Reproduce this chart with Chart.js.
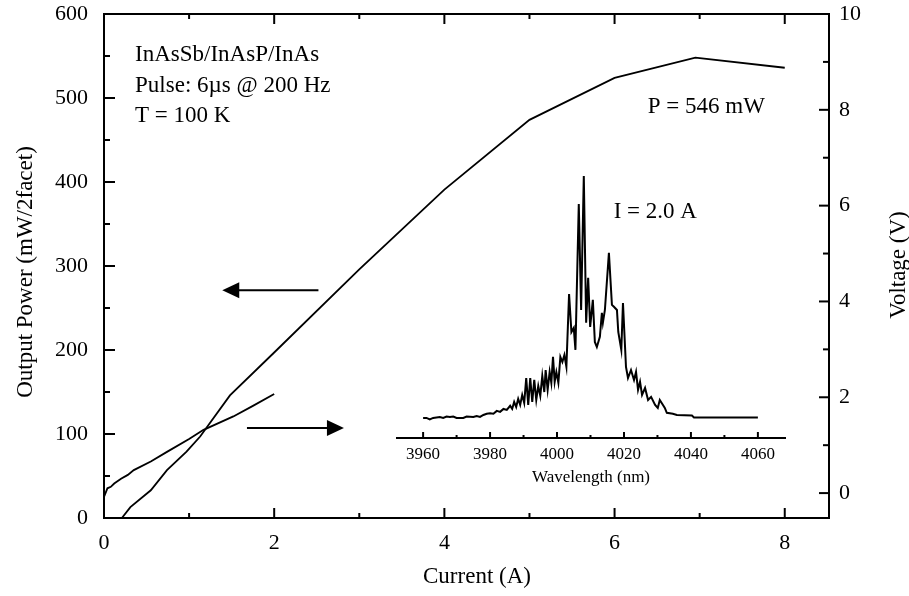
<!DOCTYPE html>
<html>
<head>
<meta charset="utf-8">
<script src="https://cdn.jsdelivr.net/npm/chart.js@4.4.0/dist/chart.umd.min.js"></script>
<style>
  html, body { margin: 0; padding: 0; background: #fff; }
  #wrap { position: relative; width: 909px; height: 596px; }
  #mainChart { position: absolute; left: 0; top: 0; }
  #insetChart { position: absolute; left: 380px; top: 150px; }
</style>
</head>
<body>
<div id="wrap">
  <canvas id="mainChart" width="909" height="596"></canvas>
  <canvas id="insetChart" width="420" height="350"></canvas>
</div>
<script>
// L-I curve (left axis)
const powerCurrent = [0.21, 0.31, 0.55, 0.74, 0.97, 1.13, 1.48, 2, 3, 4, 5, 6, 6.95, 8];
const powerValues  = [0, 13, 33, 57, 79, 97, 146, 197, 296, 391, 474, 524, 548, 536];

// V-I curve (right axis)
const voltageCurrent = [0, 0.04, 0.08, 0.12, 0.2, 0.28, 0.35, 0.55, 0.74, 1.0, 1.17, 1.52, 1.75, 2.0];
const voltageValues  = [-0.08, 0.1, 0.13, 0.2, 0.3, 0.38, 0.48, 0.66, 0.86, 1.13, 1.32, 1.6, 1.82, 2.07];

// spectrum at I = 2.0 A (normalised intensity)
const specWavelength = [
  3960, 3961, 3962, 3963, 3965, 3966, 3967, 3968, 3969, 3970,
  3972, 3973, 3975, 3976, 3977, 3978, 3979, 3980, 3981, 3982,
  3983, 3984, 3985, 3986, 3986.6, 3987.2, 3987.8, 3988.4, 3989, 3989.6,
  3990.2, 3990.8, 3991.4, 3992, 3992.6, 3993.2, 3993.8, 3994.4, 3995, 3995.6,
  3996.2, 3996.6, 3997.2, 3997.8, 3998.3, 3998.8, 3999.3, 3999.8, 4000.4, 4001,
  4001.6, 4002.2, 4002.8, 4003.6, 4004.3, 4005, 4005.5, 4006.5, 4007.2, 4008,
  4008.7, 4009.3, 4009.9, 4010.7, 4011.3, 4011.9, 4012.8, 4013.4, 4013.7, 4014.3,
  4015.5, 4016.4, 4017, 4017.9, 4018.3, 4019.2, 4019.7, 4020.6, 4021.2, 4022.1,
  4023, 4023.6, 4024.2, 4024.8, 4025.4, 4026.3, 4027.2, 4028.1, 4029.3, 4030.1,
  4030.7, 4031.6, 4032.2, 4032.8, 4034.6, 4035.8, 4040.3, 4040.9, 4060
];
const specIntensity = [
  0, 0, -0.006, 0, 0.004, 0, 0.006, 0.004, 0.006, 0,
  0, 0.006, 0.004, 0.008, 0.004, 0.012, 0.017, 0.019, 0.017, 0.029,
  0.025, 0.037, 0.033, 0.05, 0.037, 0.066, 0.045, 0.079, 0.054, 0.095,
  0.062, 0.165, 0.054, 0.165, 0.066, 0.157, 0.074, 0.132, 0.091, 0.174,
  0.107, 0.198, 0.116, 0.19, 0.145, 0.252, 0.149, 0.19, 0.145, 0.252,
  0.231, 0.26, 0.211, 0.512, 0.355, 0.372, 0.281, 0.884, 0.446, 1.0,
  0.393, 0.579, 0.376, 0.488, 0.314, 0.293, 0.335, 0.434, 0.393, 0.446,
  0.682, 0.467, 0.459, 0.446, 0.355, 0.281, 0.475, 0.211, 0.165, 0.198,
  0.157, 0.19, 0.116, 0.149, 0.095, 0.124, 0.074, 0.087, 0.054, 0.041,
  0.074, 0.054, 0.041, 0.021, 0.017, 0.012, 0.01, 0.002, 0.002
];

// tick values
const currentTicks = [0, 2, 4, 6, 8];
const currentMinor = [1, 3, 5, 7];
const powerTicks = [0, 100, 200, 300, 400, 500, 600];
const powerMinor = [50, 150, 250, 350, 450, 550];
const voltageTicks = [0, 2, 4, 6, 8, 10];
const voltageMinor = [1, 3, 5, 7, 9];
const waveTicks = [3960, 3980, 4000, 4020, 4040, 4060];
const waveMinor = [3970, 3990, 4010, 4030, 4050];

const serif = '"Liberation Serif", "Times New Roman", serif';

function toPoints(xs, ys) {
  return xs.map((v, i) => ({ x: v, y: ys[i] }));
}

function setTicks(values) {
  return axis => { axis.ticks = values.map(v => ({ value: v })); };
}

// fixed box sizes so the plot area lands where the original's does
function fitWidth(w) {
  return s => { s.width = w; s.paddingTop = 0; s.paddingBottom = 0; };
}
function fitHeight(h) {
  return s => { s.height = h; s.paddingLeft = 0; s.paddingRight = 0; };
}

function line(ctx, x0, y0, x1, y1) {
  ctx.beginPath();
  ctx.moveTo(x0, y0);
  ctx.lineTo(x1, y1);
  ctx.stroke();
}

function arrow(ctx, x0, x1, yy) {
  const dir = Math.sign(x1 - x0);
  ctx.lineWidth = 2;
  line(ctx, x0, yy, x1 - dir * 14, yy);
  ctx.beginPath();
  ctx.moveTo(x1, yy);
  ctx.lineTo(x1 - dir * 17, yy - 8);
  ctx.lineTo(x1 - dir * 17, yy + 8);
  ctx.closePath();
  ctx.fill();
}

// inward tick marks (major + minor) on all four sides
const mainTicks = {
  id: 'mainTicks',
  afterDraw(chart) {
    const { ctx, chartArea: a, scales } = chart;
    ctx.save();
    ctx.strokeStyle = '#000';
    ctx.lineWidth = 2;
    const xTick = (vals, len) => vals.forEach(v => {
      const px = scales.x.getPixelForValue(v);
      line(ctx, px, a.bottom, px, a.bottom - len);
      line(ctx, px, a.top, px, a.top + len);
    });
    xTick(currentTicks, 10);
    xTick(currentMinor, 5);
    powerTicks.forEach(v => { const py = scales.y.getPixelForValue(v); line(ctx, a.left, py, a.left + 11, py); });
    powerMinor.forEach(v => { const py = scales.y.getPixelForValue(v); line(ctx, a.left, py, a.left + 6, py); });
    voltageTicks.forEach(v => { const py = scales.y1.getPixelForValue(v); line(ctx, a.right, py, a.right - 10, py); });
    voltageMinor.forEach(v => { const py = scales.y1.getPixelForValue(v); line(ctx, a.right, py, a.right - 6, py); });
    ctx.restore();
  }
};

// text notes and arrows, placed in data coordinates
const notes = [
  { text: 'InAsSb/InAsP/InAs', a: 0.365, p: 544 },
  { text: 'Pulse: 6\u00b5s @ 200 Hz', a: 0.365, p: 507 },
  { text: 'T = 100 K', a: 0.365, p: 471 },
  { text: 'P = 546 mW', a: 6.39, p: 482 },
  { text: 'I = 2.0 A', a: 5.99, p: 357 }
];

const annotations = {
  id: 'annotations',
  afterDraw(chart) {
    const { ctx, scales: { x, y } } = chart;
    ctx.save();
    ctx.fillStyle = '#000';
    ctx.strokeStyle = '#000';
    ctx.font = '23px ' + serif;
    ctx.textAlign = 'left';
    ctx.textBaseline = 'alphabetic';
    notes.forEach(n => ctx.fillText(n.text, x.getPixelForValue(n.a), y.getPixelForValue(n.p)));

    // arrow to the left axis, arrow to the right axis
    arrow(ctx, x.getPixelForValue(2.52), x.getPixelForValue(1.39), y.getPixelForValue(271));
    arrow(ctx, x.getPixelForValue(1.68), x.getPixelForValue(2.82), y.getPixelForValue(107));

    // axis titles
    ctx.textAlign = 'center';
    ctx.fillText('Current (A)', 477, 583);
    ctx.save();
    ctx.translate(32, 272);
    ctx.rotate(-Math.PI / 2);
    ctx.fillText('Output Power (mW/2facet)', 0, 0);
    ctx.restore();
    ctx.save();
    ctx.translate(905, 265);
    ctx.rotate(-Math.PI / 2);
    ctx.fillText('Voltage (V)', 0, 0);
    ctx.restore();
    ctx.restore();
  }
};

const axisBorder = { display: true, color: '#000', width: 2 };
const noGrid = { display: false, drawTicks: false };
const tickFont = { family: serif, size: 22 };
const plainLabel = v => String(v);

new Chart(document.getElementById('mainChart'), {
  type: 'scatter',
  data: {
    datasets: [
      {
        label: 'Output power',
        data: toPoints(powerCurrent, powerValues),
        showLine: true,
        borderColor: '#000',
        borderWidth: 1.8,
        pointRadius: 0,
        tension: 0,
        yAxisID: 'y'
      },
      {
        label: 'Voltage',
        data: toPoints(voltageCurrent, voltageValues),
        showLine: true,
        borderColor: '#000',
        borderWidth: 1.8,
        pointRadius: 0,
        tension: 0,
        yAxisID: 'y1'
      }
    ]
  },
  options: {
    responsive: false,
    animation: false,
    layout: { padding: { top: 14, left: 0, right: 0, bottom: 0 } },
    plugins: { legend: { display: false }, tooltip: { enabled: false } },
    scales: {
      x: {
        type: 'linear', position: 'bottom', min: 0, max: 8.52,
        afterBuildTicks: setTicks(currentTicks),
        afterFit: fitHeight(78),
        grid: noGrid, border: axisBorder,
        ticks: { color: '#000', font: tickFont, padding: 12, maxRotation: 0, callback: plainLabel }
      },
      xTop: {
        type: 'linear', position: 'top', min: 0, max: 8.52,
        afterFit: fitHeight(0),
        grid: noGrid, border: axisBorder,
        ticks: { display: false }
      },
      y: {
        type: 'linear', position: 'left', min: 0, max: 600,
        afterBuildTicks: setTicks(powerTicks),
        afterFit: fitWidth(104),
        grid: noGrid, border: axisBorder,
        ticks: { color: '#000', font: tickFont, padding: 16, callback: plainLabel }
      },
      y1: {
        type: 'linear', position: 'right', min: -0.52, max: 10,
        afterBuildTicks: setTicks(voltageTicks),
        afterFit: fitWidth(80),
        grid: noGrid, border: axisBorder,
        ticks: { color: '#000', font: tickFont, padding: 10, callback: plainLabel }
      }
    }
  },
  plugins: [mainTicks, annotations]
});

// inset: emission spectrum
const insetTicks = {
  id: 'insetTicks',
  afterDraw(chart) {
    const { ctx, chartArea: a, scales: { x } } = chart;
    ctx.save();
    ctx.strokeStyle = '#000';
    ctx.lineWidth = 2;
    waveTicks.forEach(v => { const px = x.getPixelForValue(v); line(ctx, px, a.bottom, px, a.bottom - 6); });
    waveMinor.forEach(v => { const px = x.getPixelForValue(v); line(ctx, px, a.bottom, px, a.bottom - 3); });
    ctx.restore();
  }
};

new Chart(document.getElementById('insetChart'), {
  type: 'scatter',
  data: {
    datasets: [{
      label: 'Spectrum',
      data: toPoints(specWavelength, specIntensity),
      showLine: true,
      borderColor: '#000',
      borderWidth: 2,
      pointRadius: 0,
      tension: 0
    }]
  },
  options: {
    responsive: false,
    animation: false,
    layout: { padding: { top: 0, left: 17, right: 15, bottom: 0 } },
    plugins: { legend: { display: false }, tooltip: { enabled: false } },
    scales: {
      x: {
        type: 'linear', position: 'bottom', min: 3952.2, max: 4068.1,
        afterBuildTicks: setTicks(waveTicks),
        afterFit: fitHeight(62),
        grid: noGrid, border: axisBorder,
        ticks: { color: '#000', font: { family: serif, size: 17 }, padding: 6, maxRotation: 0, callback: plainLabel },
        title: {
          display: true, text: 'Wavelength (nm)', color: '#000',
          font: { family: serif, size: 17 }, padding: { top: 0, bottom: 12 }
        }
      },
      y: { display: false, min: -0.083, max: 1.107 }
    }
  },
  plugins: [insetTicks]
});
</script>
</body>
</html>
